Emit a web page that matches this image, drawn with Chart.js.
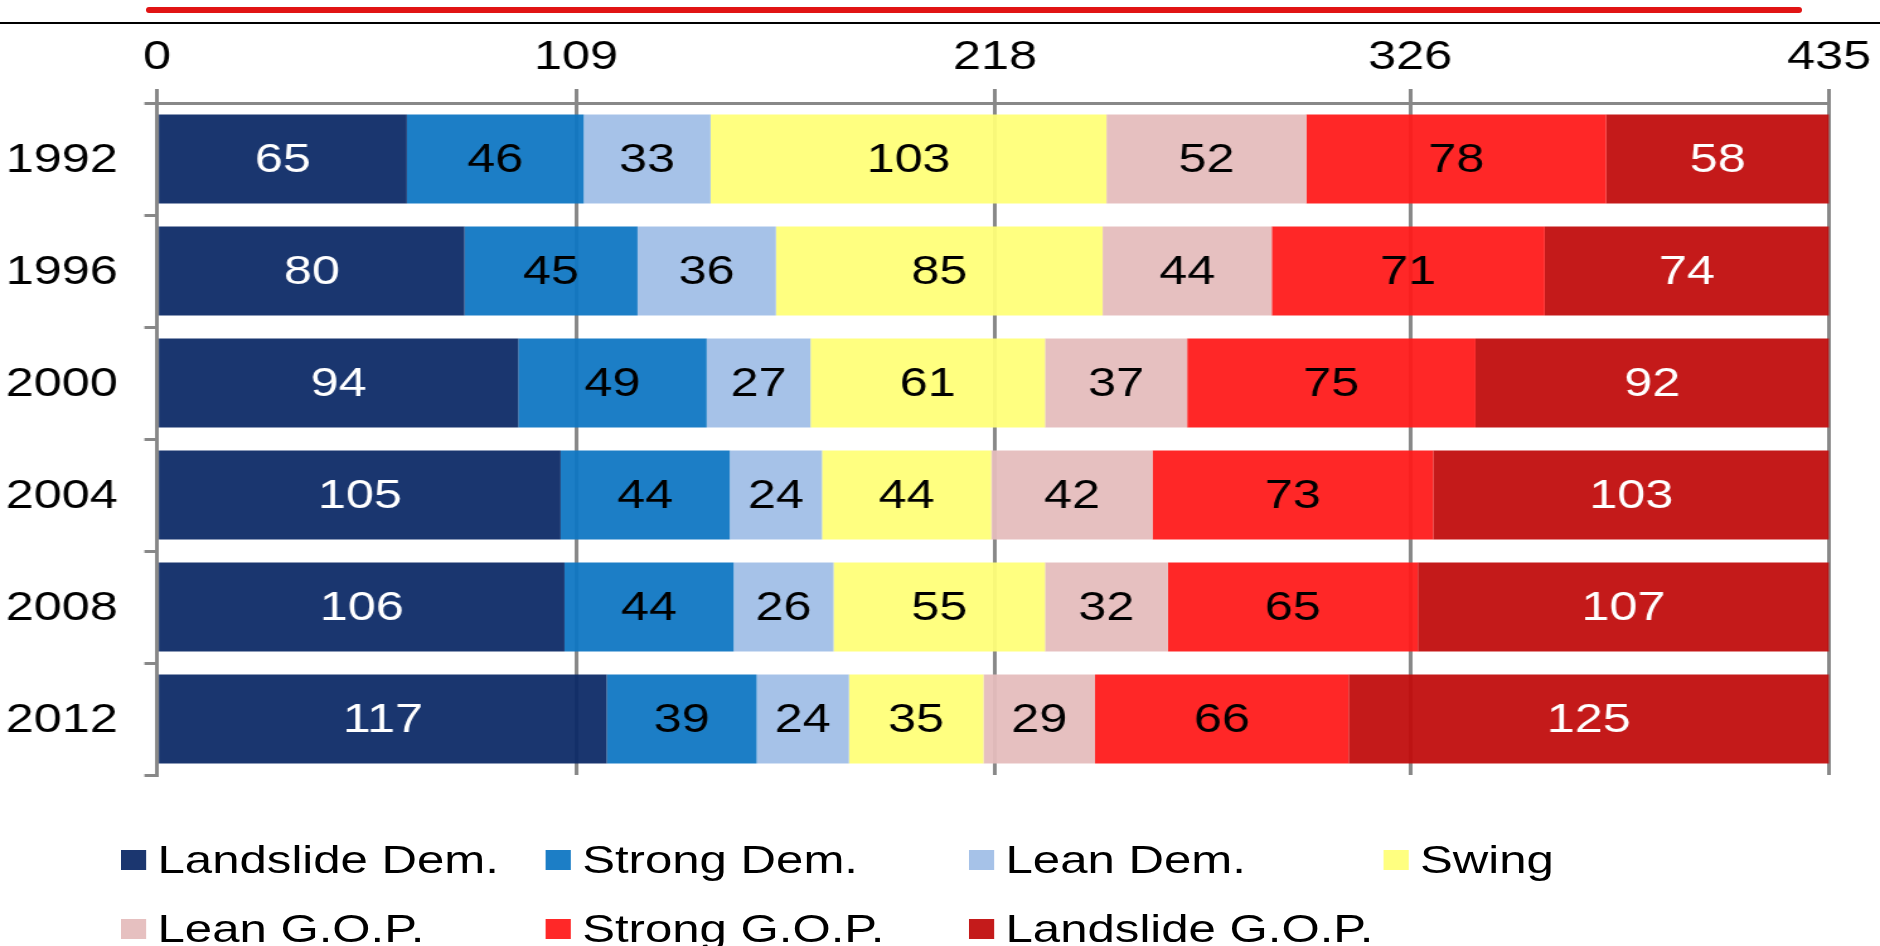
<!DOCTYPE html>
<html>
<head>
<meta charset="utf-8">
<title>House seats by partisan lean, 1992-2012</title>
<script src="https://cdn.jsdelivr.net/npm/chart.js@4.4.1/dist/chart.umd.min.js"></script>
<style>
  html, body { margin: 0; padding: 0; background: #fff; }
  body { width: 1880px; height: 946px; overflow: hidden; position: relative; font-family: "Liberation Sans", Arial, sans-serif; }
  #redline { position: absolute; left: 146px; top: 7px; width: 1656px; height: 6px; background: #e11414; border-radius: 3px; }
  #rule { position: absolute; left: 0; top: 22px; width: 1880px; height: 2px; background: #000; }
  /* the reference is stretched sideways, so the whole chart is drawn narrow and scaled */
  #stage { position: absolute; left: 0; top: 0; width: 1492px; height: 946px; transform: scaleX(1.26005); transform-origin: 0 0; }
  #chartBox { position: absolute; left: 0; top: 0; width: 1492px; height: 946px; }
  #legend .item { position: absolute; display: flex; align-items: center; height: 48px; font-size: 39px; color: #000; white-space: nowrap; }
  #legend .box { width: 20px; height: 20px; margin-right: 9px; flex: none; }
</style>
</head>
<body>
<div id="redline"></div>
<div id="rule"></div>
<div id="stage">
  <div id="chartBox"><canvas id="chartLean"></canvas></div>
  <div id="legend"></div>
</div>
<script>
// --- datos ---
const years = ['1992', '1996', '2000', '2004', '2008', '2012'];
const seriesNames = ['Landslide Dem.', 'Strong Dem.', 'Lean Dem.', 'Swing', 'Lean G.O.P.', 'Strong G.O.P.', 'Landslide G.O.P.'];
const landslideDem = [65, 80, 94, 105, 106, 117];
const strongDem = [46, 45, 49, 44, 44, 39];
const leanDem = [33, 36, 27, 24, 26, 24];
const swing = [103, 85, 61, 44, 55, 35];
const leanGop = [52, 44, 37, 42, 32, 29];
const strongGop = [78, 71, 75, 73, 65, 66];
const landslideGop = [58, 74, 92, 103, 107, 125];
const xTicks = [0, 109, 218, 326, 435];

// --- estilos ---
const seriesColors = ['#1b366f', '#1c7ec6', '#a6c2e8', '#ffff80', '#e6c0c0', '#ff2828', '#c41b1b'];
const labelColors = ['#fff', '#000', '#000', '#000', '#000', '#000', '#fff'];
const FONT = '"Liberation Sans", Arial, sans-serif';
const GRID = '#888';

// bars are a touch see-through, so the grid shows faintly through them
function fade(hex, a) {
  const n = parseInt(hex.slice(1), 16);
  const ch = [n >> 16 & 255, n >> 8 & 255, n & 255].map(c => Math.max(0, Math.round((c - 255 * (1 - a)) / a)));
  return `rgba(${ch[0]},${ch[1]},${ch[2]},${a})`;
}

const seriesData = [landslideDem, strongDem, leanDem, swing, leanGop, strongGop, landslideGop];

const barLabels = {
  id: 'barLabels',
  afterDatasetsDraw(chart) {
    const ctx = chart.ctx;
    ctx.save();
    ctx.font = `40px ${FONT}`;
    ctx.textAlign = 'center';
    ctx.textBaseline = 'middle';
    chart.data.datasets.forEach((ds, i) => {
      chart.getDatasetMeta(i).data.forEach((bar, j) => {
        const p = bar.getCenterPoint();
        ctx.fillStyle = labelColors[i];
        ctx.fillText(String(ds.data[j]), p.x, p.y + 2);
      });
    });
    ctx.restore();
  }
};

Chart.defaults.font.family = FONT;

new Chart(document.getElementById('chartLean'), {
  type: 'bar',
  data: {
    labels: years,
    datasets: seriesNames.map((name, i) => ({
      label: name,
      data: seriesData[i],
      backgroundColor: fade(seriesColors[i], 0.94),
      borderWidth: 0,
      categoryPercentage: 1,
      barPercentage: 0.795
    }))
  },
  options: {
    indexAxis: 'y',
    responsive: true,
    maintainAspectRatio: false,
    animation: false,
    devicePixelRatio: 1,
    layout: { padding: { top: 27, right: 26, bottom: 171, left: 0 } },
    plugins: {
      legend: { display: false },
      tooltip: { enabled: false }
    },
    scales: {
      x: {
        position: 'top',
        stacked: true,
        min: 0,
        max: 435,
        afterBuildTicks: (axis) => { axis.ticks = xTicks.map(v => ({ value: v })); },
        grid: { color: GRID, lineWidth: 3, tickLength: 14 },
        border: { display: true, color: GRID, width: 3 },
        ticks: { color: '#000', font: { size: 40 }, padding: 7, maxRotation: 0, autoSkip: false }
      },
      y: {
        stacked: true,
        afterFit: (s) => { s.width = 124.6; },
        grid: { drawOnChartArea: false, color: GRID, lineWidth: 3, tickLength: 10 },
        border: { display: true, color: GRID, width: 3 },
        ticks: { color: '#000', font: { size: 40 }, padding: 21, labelOffset: 2 }
      }
    }
  },
  plugins: [barLabels]
});

// leyenda en columnas fijas, como la del original
const legendCols = [96, 433, 769, 1098];
const legendRows = [860, 929];
const leg = document.getElementById('legend');
seriesNames.forEach((name, i) => {
  const item = document.createElement('div');
  item.className = 'item';
  item.style.left = legendCols[i % 4] + 'px';
  item.style.top = (legendRows[Math.floor(i / 4)] - 24) + 'px';
  item.innerHTML = `<span class="box" style="background:${seriesColors[i]}"></span><span>${name}</span>`;
  leg.appendChild(item);
});
</script>
</body>
</html>
